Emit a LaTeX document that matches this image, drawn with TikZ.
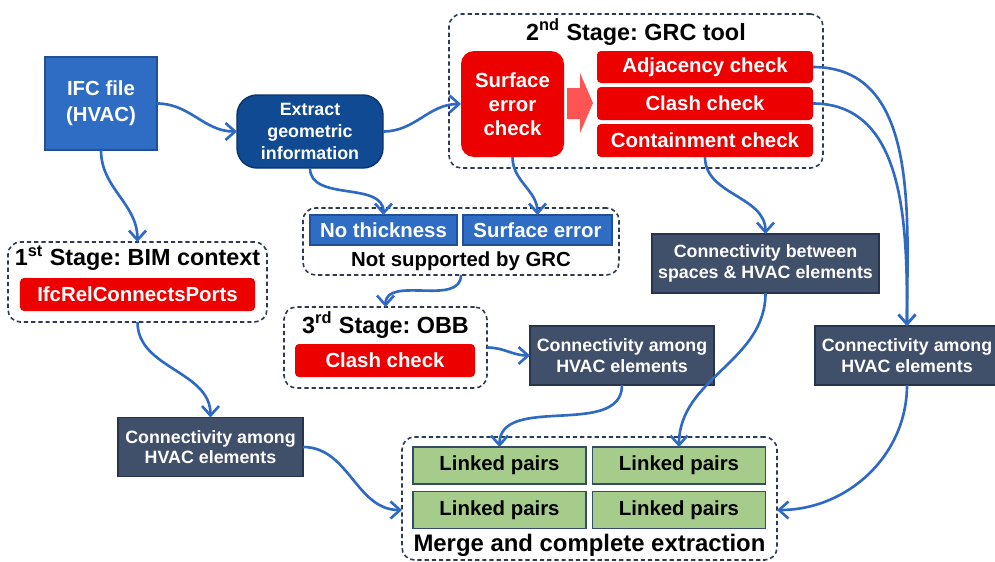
\documentclass[tikz,border=0pt]{standalone}
\usepackage{fontspec}
\setmainfont{Liberation Sans}
\usetikzlibrary{arrows.meta}
\frenchspacing

\definecolor{ifcblue}{RGB}{47,109,196}
\definecolor{ifcedge}{RGB}{34,80,150}
\definecolor{navy}{RGB}{16,74,146}
\definecolor{navyedge}{RGB}{10,52,108}
\definecolor{checkred}{RGB}{236,0,0}
\definecolor{arrowred}{RGB}{255,84,84}
\definecolor{slate}{RGB}{64,79,106}
\definecolor{slateedge}{RGB}{38,52,78}
\definecolor{pairgreen}{RGB}{166,204,140}
\definecolor{pairedge}{RGB}{52,76,104}
\definecolor{linkblue}{RGB}{46,106,196}
\definecolor{framenavy}{RGB}{44,58,88}

\begin{document}
\begin{tikzpicture}[x=0.2mm,y=0.2mm,
  every node/.style={inner sep=0pt,outer sep=0pt,align=center},
  bigtext/.style={font=\bfseries\fontsize{11.6}{14.8}\selectfont},
  smalltext/.style={font=\bfseries\fontsize{10.15}{11.8}\selectfont},
  stagetitle/.style={font=\bfseries\fontsize{13.3}{16}\selectfont},
  stageframe/.style={draw=framenavy,line width=0.9pt,dash pattern=on 2.4pt off 1.7pt,rounded corners=2.5mm},
  bluebox/.style={bigtext,draw=ifcedge,line width=0.8pt,fill=ifcblue,text=white},
  redbox/.style={bigtext,fill=checkred,text=white,rounded corners=0.8mm},
  slatebox/.style={smalltext,draw=slateedge,line width=0.8pt,fill=slate,text=white,minimum height=11.8mm},
  pairbox/.style={bigtext,draw=pairedge,line width=0.8pt,fill=pairgreen,minimum width=34.6mm,minimum height=7.4mm},
  link/.style={draw=linkblue,line width=1.5pt,-{Straight Barb[length=1.9mm,width=3.4mm]}}
]
\useasboundingbox (0,0) rectangle (995,-562);

% dashed stage frames
\node[stageframe,minimum width=74.8mm,minimum height=30.8mm] (grc) at (636,-91) {};
\node[stageframe,minimum width=51.8mm,minimum height=16mm] (bim) at (137.5,-282) {};
\node[stageframe,minimum width=63.2mm,minimum height=13.4mm] (nosup) at (461,-241.5) {};
\node[stageframe,minimum width=40.6mm,minimum height=16.2mm] (obb) at (385.5,-347.5) {};
\node[stageframe,minimum width=75mm,minimum height=24.6mm] (merge) at (589.5,-498.5) {};

% input side
\node[bluebox,minimum width=22.4mm,minimum height=18.6mm] (ifc) at (101,-103.5) {IFC file\\(HVAC)};
\node[smalltext,draw=navyedge,line width=0.8pt,fill=navy,text=white,rounded corners=4mm,
  minimum width=29.2mm,minimum height=14.6mm,font=\bfseries\fontsize{10.15}{12.3}\selectfont] (extract) at (310,-131.5) {Extract\\geometric\\information};

% 2nd stage
\node[stagetitle] (grctitle) at (636,-32) {2\textsuperscript{nd} Stage: GRC tool};
\node[redbox,rounded corners=2.6mm,minimum width=20.6mm,minimum height=21.2mm,
  font=\bfseries\fontsize{11.6}{13.6}\selectfont] (surf) at (512.5,-104) {Surface\\error\\check};
\fill[arrowred] (567,-88) -- (580,-88) -- (580,-73) -- (593,-103) -- (580,-133) -- (580,-119) -- (567,-119) -- cycle;
\node[redbox,minimum width=43.2mm,minimum height=6.4mm] (adj) at (705,-67) {Adjacency check};
\node[redbox,minimum width=43.2mm,minimum height=6.6mm] (clash) at (705,-103.5) {Clash check};
\node[redbox,minimum width=43.2mm,minimum height=6.6mm] (contain) at (705,-140.5) {Containment check};

% unsupported geometry
\node[bluebox,minimum width=29.4mm,minimum height=6mm] (nothick) at (383.5,-230) {No thickness};
\node[bluebox,minimum width=29.8mm,minimum height=6mm] (surferr) at (537.5,-230) {Surface error};
\node[bigtext] (nosuptext) at (461,-261) {Not supported by GRC};

% 1st stage
\node[stagetitle] (bimtitle) at (137.5,-258) {1\textsuperscript{st} Stage: BIM context};
\node[redbox,minimum width=47mm,minimum height=6.6mm] (ports) at (137.5,-294.5) {IfcRelConnectsPorts};

% 3rd stage
\node[stagetitle] (obbtitle) at (385.5,-325) {3\textsuperscript{rd} Stage: OBB};
\node[redbox,minimum width=36mm,minimum height=6.6mm] (obbclash) at (385,-360.5) {Clash check};

% connectivity results
\node[slatebox,minimum width=37mm] (lconn) at (210.5,-447) {Connectivity among\\HVAC elements};
\node[slatebox,minimum width=36.8mm] (mconn) at (622,-355.5) {Connectivity among\\HVAC elements};
\node[slatebox,minimum width=45.4mm] (between) at (765.5,-263.5) {Connectivity between\\spaces \& HVAC elements};
\node[slatebox,minimum width=36.8mm] (rconn) at (907,-355.5) {Connectivity among\\HVAC elements};

% merged pairs
\node[pairbox] (pairA) at (499.5,-465.5) {Linked pairs};
\node[pairbox] (pairB) at (679,-465.5) {Linked pairs};
\node[pairbox] (pairC) at (499.5,-510) {Linked pairs};
\node[pairbox] (pairD) at (679,-510) {Linked pairs};
\node[stagetitle,font=\bfseries\fontsize{13.6}{16}\selectfont] (mergetext) at (589.5,-545) {Merge and complete extraction};

% flow
\draw[link] (ifc.east) to[out=0,in=180] (extract.west);
\draw[link] (ifc.south) to[out=-90,in=90] (bim.north);
\draw[link] (extract.east) to[out=0,in=180] (surf.west);
\draw[link] (extract.south) to[out=-90,in=90] (nothick.north);
\draw[link] (surf.south) to[out=-90,in=90] (surferr.north);
\draw[link] (nosup.south) to[out=-90,in=90] (obb.north);
\draw[link] (obb.east) to[out=0,in=180] (mconn.west);
\draw[link] (contain.south) to[out=-90,in=90] (between.north);
\draw[link] (adj.east) to[out=0,in=90] (rconn.north);
\draw[link] (clash.east) to[out=0,in=90] (rconn.north);
\draw[link] (rconn.south) to[out=-90,in=0] (pairD.east -| merge.east);
\draw[link] (between.south) to[out=-90,in=90] (pairB.north);
\draw[link] (mconn.south) to[out=-90,in=90] (pairA.north);
\draw[link] (bim.south) to[out=-90,in=90] (lconn.north);
\draw[link] (lconn.east) to[out=0,in=180] (pairC.west -| merge.west);
\end{tikzpicture}
\end{document}
